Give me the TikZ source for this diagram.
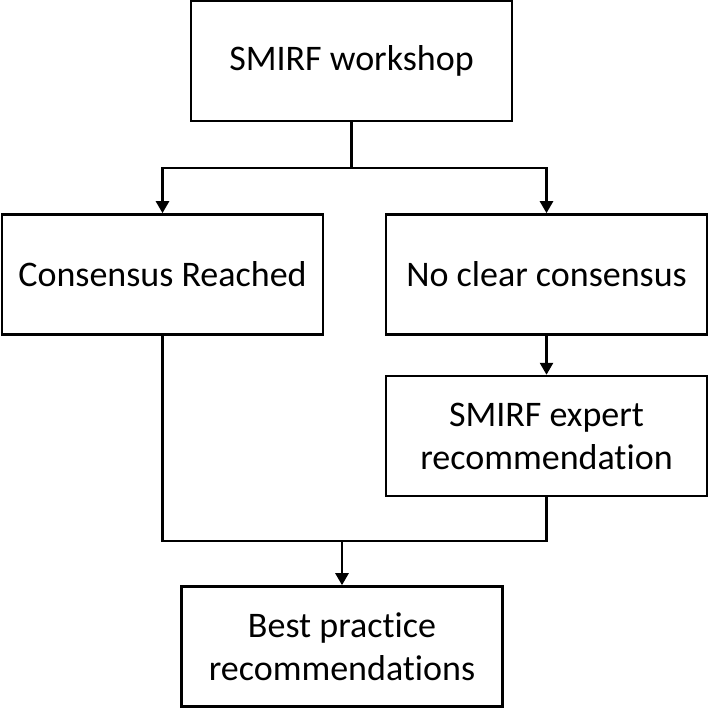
\documentclass[tikz,border=0pt]{standalone}
\usepackage{fontspec}
\setmainfont[Ligatures=NoCommon]{Carlito}
\usetikzlibrary{arrows.meta,positioning}
\tikzset{
  block/.style={draw=black, line width=1.3pt, minimum width=160.5pt,
    minimum height=60pt, align=center, fill=white,
    font=\fontsize{18}{21.5}\selectfont},
  arrow/.style={-{Triangle[width=6.5pt,length=6pt]}, line width=1.3pt},
  link/.style={line width=1.3pt}
}

\begin{document}
\begin{tikzpicture}[x=0.5pt,y=0.5pt]
  \useasboundingbox (0,0) rectangle (709,710);
  \node[block] (workshop) at (351.5,649) {SMIRF workshop};
  \node[block] (reached) at (162.5,435.5) {Consensus Reached};
  \node[block] (noclear) at (546.5,435.5) {No clear consensus};
  \node[block, below=19.5pt of noclear] (expert) {SMIRF expert\\recommendation};
  \node[block] (practice) at (342,63.5) {Best practice\\recommendations};
  \coordinate (split) at (351.5,542);
  \coordinate (join) at (342,169);
  \draw[link] (workshop.south) -- (split);
  \draw[arrow] (split) -| (reached.north);
  \draw[arrow] (split) -| (noclear.north);
  \draw[arrow] (noclear) -- (expert);
  \draw[link] (reached.south) |- (join);
  \draw[link] (expert.south) |- (join);
  \draw[arrow] (join) -- (practice);
\end{tikzpicture}
\end{document}
